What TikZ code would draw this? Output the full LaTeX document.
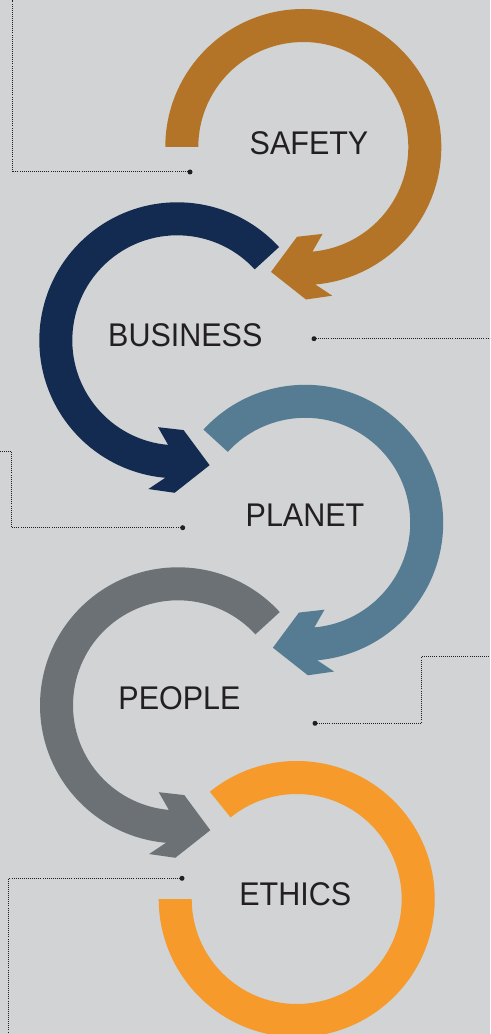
\documentclass[tikz,border=0pt]{standalone}
\usepackage{fontspec}
\usepackage{xcolor}
\usepackage{tikz}

\newfontfamily\ringfont{Liberation Sans}[FakeStretch=0.93]

\definecolor{bgc}{RGB}{209,211,212}
\definecolor{inkc}{RGB}{35,31,32}
\definecolor{safetyc}{RGB}{180,116,40}
\definecolor{businessc}{RGB}{19,43,80}
\definecolor{planetc}{RGB}{86,124,147}
\definecolor{peoplec}{RGB}{107,113,116}
\definecolor{ethicsc}{RGB}{245,154,43}

\begin{document}
\begin{tikzpicture}[x=0.75pt,y=0.75pt,yscale=-1,xscale=1,
  ringtext/.style={font=\ringfont\fontsize{24.6}{28}\selectfont, text=inkc, inner sep=0.75pt},
  dotmark/.style={circle, fill=inkc, inner sep=0pt, minimum size=3.75pt},
  leader/.style={draw=inkc, line width=0.75pt, dash pattern=on 0.75pt off 0.8pt}]

%Background [frame of 490 x 1034]
\fill[bgc] (0,0) rectangle (490,1034);
\clip (0,0) rectangle (490,1034);

%Shape: Arc with arrow [SAFETY]
\begin{scope}[shift={(303.3,147)}]
\fill[safetyc] (180:138) arc[start angle=180, end angle=445, radius=138] -- (439:151.5) -- (449:152.5) -- (464.5:129) -- (454:90) -- (437.5:89) -- (445:105) arc[start angle=445, end angle=180, radius=105] -- cycle ;
\end{scope}
%Shape: Arc with arrow [BUSINESS]
\begin{scope}[shift={(177.3,340.3)}]
\fill[businessc] (-42.5:138) arc[start angle=-42.5, end angle=-265, radius=138] -- (-259:151.5) -- (-269:152.5) -- (-284.5:129) -- (-274:90) -- (-257.5:89) -- (-265:105) arc[start angle=-265, end angle=-42.5, radius=105] -- cycle ;
\end{scope}
%Shape: Arc with arrow [PLANET]
\begin{scope}[shift={(305.2,522.8)}]
\fill[planetc] (-137.5:138) arc[start angle=-137.5, end angle=85, radius=138] -- (79:151.5) -- (89:152.5) -- (104.5:129) -- (94:90) -- (77.5:89) -- (85:105) arc[start angle=85, end angle=-137.5, radius=105] -- cycle ;
\end{scope}
%Shape: Arc with arrow [PEOPLE]
\begin{scope}[shift={(178,705.3)}]
\fill[peoplec] (-42.5:138) arc[start angle=-42.5, end angle=-265, radius=138] -- (-259:151.5) -- (-269:152.5) -- (-284.5:129) -- (-274:90) -- (-257.5:89) -- (-265:105) arc[start angle=-265, end angle=-42.5, radius=105] -- cycle ;
\end{scope}
%Shape: Arc [ETHICS]
\begin{scope}[shift={(296.7,899)}]
\fill[ethicsc] (-129:138) arc[start angle=-129, end angle=180, radius=138] -- (180:105) arc[start angle=180, end angle=-129, radius=105] -- cycle ;
\end{scope}

% Text Node
\node[ringtext] (safety) at (309,143.3) {SAFETY};
% Text Node
\node[ringtext] (business) at (185.3,335.7) {BUSINESS};
% Text Node
\node[ringtext] (planet) at (305,515.7) {PLANET};
% Text Node
\node[ringtext] (people) at (179.5,698.3) {PEOPLE};
% Text Node
\node[ringtext] (ethics) at (295.3,894) {ETHICS};

%Dots and their free ends
\node[dotmark] (dSafety) at (190,172) {};
\coordinate (eSafety) at (12.3,0);
\node[dotmark] (dBusiness) at (314,338.7) {};
\coordinate (eBusiness) at (490,338.7);
\node[dotmark] (dPlanet) at (182.7,527.7) {};
\coordinate (kPlanet) at (11.7,451);
\coordinate (ePlanet) at (0,451);
\node[dotmark] (dPeople) at (315,723.3) {};
\coordinate (kPeople) at (421.7,656.7);
\coordinate (ePeople) at (490,656.7);
\node[dotmark] (dEthics) at (182,878.3) {};
\coordinate (eEthics) at (8.7,1034);

%Dotted Lines
\draw[leader] (dSafety.center) -| (eSafety) ;
\draw[leader] (dBusiness.center) -- (eBusiness) ;
\draw[leader] (dPlanet.center) -| (kPlanet) -- (ePlanet) ;
\draw[leader] (dPeople.center) -| (kPeople) -- (ePeople) ;
\draw[leader] (dEthics.center) -| (eEthics) ;

\end{tikzpicture}
\end{document}
